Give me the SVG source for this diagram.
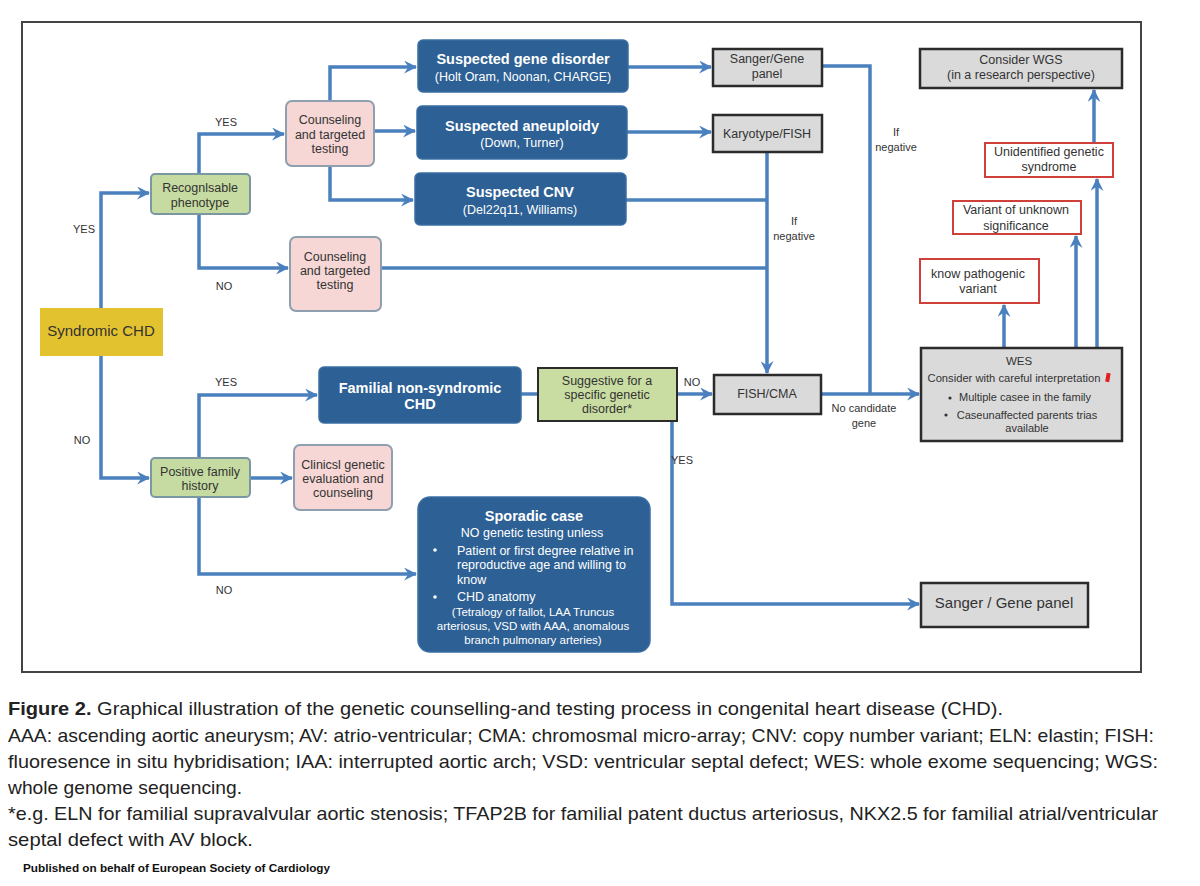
<svg xmlns="http://www.w3.org/2000/svg" width="1200" height="886" viewBox="0 0 1200 886">
<defs>
<marker id="ah" viewBox="0 0 12 12" refX="11" refY="6" markerWidth="13" markerHeight="13" markerUnits="userSpaceOnUse" orient="auto">
<path d="M0,0 L12,6 L0,12 L4,6 z" fill="#4a80bd"/>
</marker>
<style>
.c{fill:none;stroke:#4a80bd;stroke-width:3.5}
.t{font-family:"Liberation Sans",Arial,sans-serif;font-size:12.5px;fill:#333;text-anchor:middle}
.l{font-family:"Liberation Sans",Arial,sans-serif;font-size:11px;fill:#333;text-anchor:middle}
.bt{font-family:"Liberation Sans",Arial,sans-serif;font-size:14.5px;font-weight:bold;fill:#fff;text-anchor:middle}
.bs{font-family:"Liberation Sans",Arial,sans-serif;font-size:12.5px;fill:#fff;text-anchor:middle}
.bsl{font-family:"Liberation Sans",Arial,sans-serif;font-size:12.5px;fill:#fff}
.blue{fill:#2d6094;stroke:#3a6ea3;stroke-width:1.5}
.pink{fill:#f6d7d5;stroke:#8e9fb0;stroke-width:2}
.green{fill:#c6dba1;stroke:#7b98a2;stroke-width:2}
.gray{fill:#dadada;stroke:#2b2b2b;stroke-width:2.5}
.red{fill:#fff;stroke:#d0403b;stroke-width:2}
.cap{font-family:"Liberation Sans",Arial,sans-serif;font-size:19px;fill:#222}
</style>
</defs>
<rect width="1200" height="886" fill="#fff"/>
<rect x="22" y="22" width="1119" height="650" fill="none" stroke="#444" stroke-width="2"/>

<g id="connectors">
<path class="c" d="M101,308 V193 H149" marker-end="url(#ah)"/>
<path class="c" d="M199,174 V134 H284" marker-end="url(#ah)"/>
<path class="c" d="M199,214 V268 H288" marker-end="url(#ah)"/>
<path class="c" d="M330,101 V67 H416" marker-end="url(#ah)"/>
<path class="c" d="M374,131 H415" marker-end="url(#ah)"/>
<path class="c" d="M330,166 V200 H413" marker-end="url(#ah)"/>
<path class="c" d="M628,67 H711" marker-end="url(#ah)"/>
<path class="c" d="M627,132 H711" marker-end="url(#ah)"/>
<path class="c" d="M767,152 V373" marker-end="url(#ah)"/>
<path class="c" d="M626,200 H767"/>
<path class="c" d="M381,268 H767"/>
<path class="c" d="M822,66 H870 V394"/>
<path class="c" d="M821,394 H919" marker-end="url(#ah)"/>
<path class="c" d="M677,394 H712" marker-end="url(#ah)"/>
<path class="c" d="M521,394 H538"/>
<path class="c" d="M672,421 V604 H919" marker-end="url(#ah)"/>
<path class="c" d="M101,356 V478 H149" marker-end="url(#ah)"/>
<path class="c" d="M199,458 V395 H317" marker-end="url(#ah)"/>
<path class="c" d="M250,478 H292" marker-end="url(#ah)"/>
<path class="c" d="M199,497 V574 H416" marker-end="url(#ah)"/>
<path class="c" d="M1004,348 V305" marker-end="url(#ah)"/>
<path class="c" d="M1076,348 V236" marker-end="url(#ah)"/>
<path class="c" d="M1097,348 V179" marker-end="url(#ah)"/>
<path class="c" d="M1094,143 V90" marker-end="url(#ah)"/>
<text class="l" x="84" y="233">YES</text>
<text class="l" x="226" y="126">YES</text>
<text class="l" x="224" y="290">NO</text>
<text class="l" x="82" y="444">NO</text>
<text class="l" x="226" y="386">YES</text>
<text class="l" x="224" y="594">NO</text>
<text class="l" x="794" y="225">If</text>
<text class="l" x="794" y="240">negative</text>
<text class="l" x="896" y="136">If</text>
<text class="l" x="896" y="151">negative</text>
<text class="l" x="692" y="386">NO</text>
<text class="l" x="682" y="464">YES</text>
<text class="l" x="864" y="412">No candidate</text>
<text class="l" x="864" y="427">gene</text>
</g>

<g id="syndromic">
<rect x="40" y="308" width="123" height="48" fill="#e3c22f"/>
<text class="t" x="101" y="336" style="font-size:15px">Syndromic CHD</text>
</g>
<g id="recognisable">
<rect class="green" x="151" y="174" width="99" height="40" rx="4"/>
<text class="t" x="200" y="192">Recognlsable</text>
<text class="t" x="200" y="207">phenotype</text>
</g>
<g id="counsel1">
<rect class="pink" x="286" y="101" width="88" height="65" rx="6"/>
<text class="t" x="330" y="124">Counseling</text>
<text class="t" x="330" y="139">and targeted</text>
<text class="t" x="330" y="153">testing</text>
</g>
<g id="counsel2">
<rect class="pink" x="290" y="237" width="91" height="74" rx="6"/>
<text class="t" x="335" y="261">Counseling</text>
<text class="t" x="335" y="275">and targeted</text>
<text class="t" x="335" y="289">testing</text>
</g>
<g id="gene">
<rect class="blue" x="418" y="40" width="210" height="52" rx="5"/>
<text class="bt" x="523" y="64">Suspected gene disorder</text>
<text class="bs" x="523" y="81">(Holt Oram, Noonan, CHARGE)</text>
</g>
<g id="aneuploidy">
<rect class="blue" x="417" y="106" width="210" height="53" rx="5"/>
<text class="bt" x="522" y="131">Suspected aneuploidy</text>
<text class="bs" x="522" y="147">(Down, Turner)</text>
</g>
<g id="cnv">
<rect class="blue" x="415" y="173" width="211" height="52" rx="5"/>
<text class="bt" x="520" y="197">Suspected CNV</text>
<text class="bs" x="520" y="214">(Del22q11, Williams)</text>
</g>
<g id="sanger1">
<rect class="gray" x="713" y="49" width="109" height="37"/>
<text class="t" x="767" y="63">Sanger/Gene</text>
<text class="t" x="767" y="78">panel</text>
</g>
<g id="karyotype">
<rect class="gray" x="713" y="115" width="109" height="37"/>
<text class="t" x="767" y="138">Karyotype/FISH</text>
</g>
<g id="wgs">
<rect class="gray" x="920" y="49" width="202" height="39"/>
<text class="t" x="1021" y="64">Consider WGS</text>
<text class="t" x="1021" y="79">(in a research perspective)</text>
</g>
<g id="unidentified">
<rect class="red" x="985" y="143" width="128" height="34"/>
<text class="t" x="1049" y="156">Unidentified genetic</text>
<text class="t" x="1049" y="171">syndrome</text>
</g>
<g id="vus">
<rect class="red" x="953" y="201" width="128" height="33"/>
<text class="t" x="1016" y="214">Variant of unknown</text>
<text class="t" x="1016" y="230">significance</text>
</g>
<g id="pathogenic">
<rect class="red" x="920" y="259" width="119" height="44"/>
<text class="t" x="978" y="278">know pathogenic</text>
<text class="t" x="978" y="293">variant</text>
</g>
<g id="wes">
<rect class="gray" x="921" y="348" width="201" height="93"/>
<text class="t" x="1019" y="365" style="font-size:11.5px">WES</text>
<text class="t" x="1014" y="382" style="font-size:11.2px">Consider with careful interpretation</text>
<rect x="1106" y="373" width="4" height="9" fill="#e02020" transform="rotate(10 1108 377)"/>
<circle cx="950" cy="398" r="1.6" fill="#333"/>
<text class="t" x="1025" y="401" style="font-size:11px">Multiple casee in the family</text>
<circle cx="946" cy="415" r="1.6" fill="#333"/>
<text class="t" x="1027" y="419" style="font-size:11px">Caseunaffected parents trias</text>
<text class="t" x="1027" y="432" style="font-size:11px">available</text>
</g>
<g id="fishcma">
<rect class="gray" x="714" y="375" width="107" height="39"/>
<text class="t" x="767" y="398">FISH/CMA</text>
</g>
<g id="sanger2">
<rect class="gray" x="921" y="583" width="167" height="44"/>
<text class="t" x="1004" y="608" style="font-size:15px">Sanger / Gene panel</text>
</g>
<g id="familial">
<rect class="blue" x="319" y="367" width="202" height="56" rx="5"/>
<text class="bt" x="420" y="393">Familial non-syndromic</text>
<text class="bt" x="420" y="409">CHD</text>
</g>
<g id="suggestive">
<rect x="538" y="368" width="139" height="53" fill="#c9dda2" stroke="#2b2b2b" stroke-width="2"/>
<text class="t" x="607" y="385">Suggestive for a</text>
<text class="t" x="607" y="399">specific genetic</text>
<text class="t" x="607" y="413">disorder*</text>
</g>
<g id="family">
<rect class="green" x="151" y="458" width="99" height="39" rx="4"/>
<text class="t" x="200" y="476">Positive family</text>
<text class="t" x="200" y="490">history</text>
</g>
<g id="clinical">
<rect class="pink" x="294" y="445" width="98" height="65" rx="6"/>
<text class="t" x="343" y="469">Clinicsl genetic</text>
<text class="t" x="343" y="483">evaluation and</text>
<text class="t" x="343" y="497">counseling</text>
</g>
<g id="sporadic">
<rect class="blue" x="418" y="497" width="232" height="155" rx="12"/>
<text class="bt" x="534" y="521">Sporadic case</text>
<text class="bs" x="532" y="537">NO genetic testing unless</text>
<circle cx="435" cy="550" r="1.8" fill="#fff"/>
<text class="bsl" x="457" y="555">Patient or first degree relative in</text>
<text class="bsl" x="457" y="569">reproductive age and willing to</text>
<text class="bsl" x="457" y="584">know</text>
<circle cx="435" cy="597" r="1.8" fill="#fff"/>
<text class="bsl" x="457" y="601">CHD anatomy</text>
<text class="bs" x="533" y="616" style="font-size:11.5px">(Tetralogy of fallot, LAA Truncus</text>
<text class="bs" x="533" y="630" style="font-size:11.5px">arteriosus, VSD with AAA, anomalous</text>
<text class="bs" x="533" y="644" style="font-size:11.5px">branch pulmonary arteries)</text>
</g>

<g id="caption">
<text class="cap" x="8" y="715" textLength="995" lengthAdjust="spacingAndGlyphs"><tspan font-weight="bold">Figure  2.</tspan> Graphical illustration of the genetic counselling-and testing process in congenital heart disease (CHD).</text>
<text class="cap" x="8" y="742" textLength="1146" lengthAdjust="spacingAndGlyphs">AAA: ascending aortic aneurysm; AV: atrio-ventricular; CMA: chromosmal micro-array; CNV: copy number variant; ELN: elastin; FISH:</text>
<text class="cap" x="8" y="768" textLength="1150" lengthAdjust="spacingAndGlyphs">fluoresence in situ hybridisation; IAA: interrupted aortic arch; VSD: ventricular septal defect; WES: whole exome sequencing; WGS:</text>
<text class="cap" x="8" y="794" textLength="234" lengthAdjust="spacingAndGlyphs">whole genome sequencing.</text>
<text class="cap" x="8" y="820" textLength="1150" lengthAdjust="spacingAndGlyphs">*e.g. ELN for familial supravalvular aortic stenosis; TFAP2B for familial patent ductus arteriosus, NKX2.5 for familial atrial/ventricular</text>
<text class="cap" x="8" y="846" textLength="245" lengthAdjust="spacingAndGlyphs">septal defect with AV block.</text>
<text x="23" y="872" font-family="'Liberation Sans',Arial,sans-serif" font-size="11" font-weight="bold" fill="#111" textLength="307" lengthAdjust="spacingAndGlyphs">Published on behalf of European Society of Cardiology</text>
</g>
</svg>
